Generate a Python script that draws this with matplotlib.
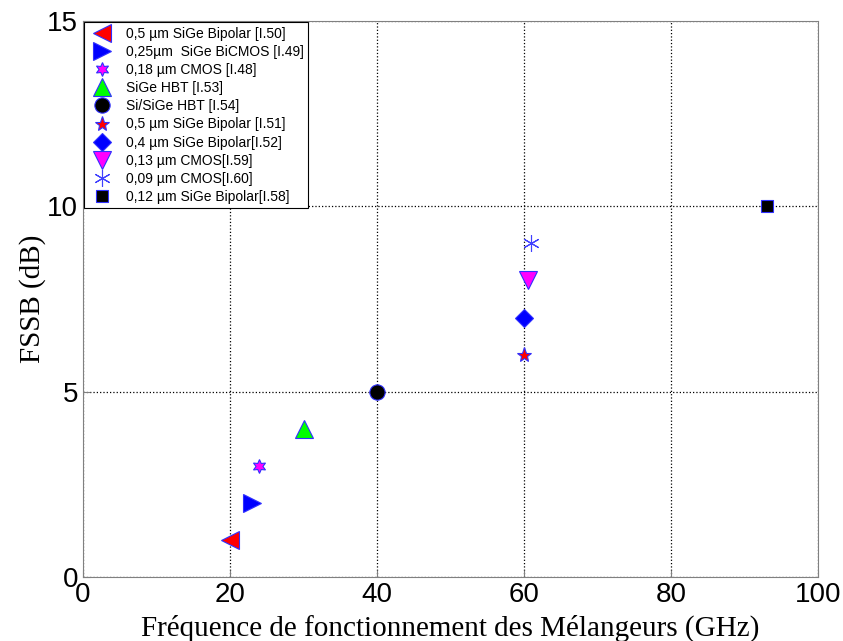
import numpy as np
import matplotlib.pyplot as plt

# Données : fréquence (GHz) et FSSB (dB) pour chaque mélangeur
labels = ['0,5 µm SiGe Bipolar [I.50]', '0,25µm  SiGe BiCMOS [I.49]', '0,18 µm CMOS [I.48]',
          'SiGe HBT [I.53]', 'Si/SiGe HBT [I.54]', '0,5 µm SiGe Bipolar [I.51]',
          '0,4 µm SiGe Bipolar[I.52]', '0,13 µm CMOS[I.59]', '0,09 µm CMOS[I.60]',
          '0,12 µm SiGe Bipolar[I.58]']
freq = [20, 23, 24, 30, 40, 60, 60, 60.5, 61, 93]
fssb = [1, 2, 3, 4, 5, 6, 7, 8, 9, 10]

marqueurs = ['<', '>', (6, 1, 0), '^', 'o', '*', 'D', 'v', (6, 2, 0), 's']
couleurs = ['red', 'blue', 'magenta', 'lime', 'black', 'red', 'blue', 'magenta', 'none', 'black']
tailles = [13, 13, 10, 13, 11, 11, 9, 13, 12, 9]

fig = plt.figure(figsize=(8.43, 6.41), dpi=100)
ax = fig.add_axes([0.0985, 0.0998, 0.8719, 0.8674])

for i in range(len(freq)):
    if couleurs[i] == 'none':
        ax.plot(freq[i], fssb[i], marker=marqueurs[i], color='#4040ff', markersize=tailles[i],
                linestyle='none', markeredgewidth=0.8, label=labels[i])
    else:
        ax.plot(freq[i], fssb[i], marker=marqueurs[i], markerfacecolor=couleurs[i],
                markeredgecolor='#3030ff', markeredgewidth=0.8, markersize=tailles[i],
                linestyle='none', label=labels[i])

ax.set_xlim(0, 100)
ax.set_ylim(0, 15)
ax.set_xticks(np.arange(0, 101, 20))
ax.set_yticks([0, 5, 10, 15])
ax.tick_params(direction='in', labelsize=20, length=5, color='gray')
for t in ax.get_xticklabels() + ax.get_yticklabels():
    t.set_family('Liberation Sans')
for s in ax.spines.values():
    s.set_color('gray')
ax.grid(True, color='black', linestyle=':', linewidth=0.9)

ax.set_xlabel('Fréquence de fonctionnement des Mélangeurs (GHz)', fontsize=21,
              family='Liberation Serif', labelpad=5)
ax.set_ylabel('FSSB (dB)', fontsize=21, family='Liberation Serif', labelpad=1)

leg = ax.legend(loc='upper left', prop={'family': 'Liberation Sans', 'size': 10},
                fancybox=False, edgecolor='black', framealpha=1, borderaxespad=0.1,
                handletextpad=0.7, labelspacing=0.3, borderpad=0.3, markerscale=1.0)
leg.get_frame().set_linewidth(0.8)

plt.savefig('out.png')
